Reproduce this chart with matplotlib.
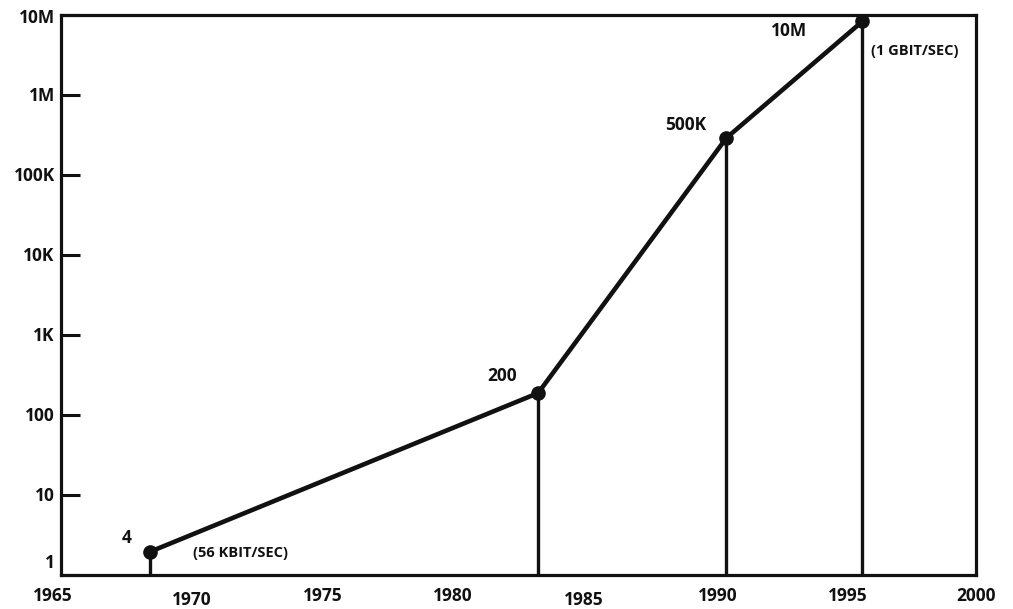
import matplotlib
matplotlib.use("Agg")
import matplotlib.pyplot as plt
from matplotlib.transforms import blended_transform_factory

plt.rcParams['font.family'] = ['Open Sans', 'DejaVu Sans']
plt.rcParams['font.weight'] = 'bold'

# Data
years = [1968.4, 1983.25, 1990.45, 1995.65]
values = [1.95, 188, 290000, 8300000]
point_labels = ["4", "200", "500K", "10M"]
rate_notes = ["(56 KBIT/SEC)", "(1 GBIT/SEC)"]
x_ticks = [1965, 1970, 1975, 1980, 1985, 1990, 1995, 2000]
x_tick_labels = ["1965", "1970", "1975", "1980", "1985", "1990", "1995", "2000"]
y_ticks = [1, 10, 100, 1000, 10000, 100000, 1000000, 10000000]
y_tick_labels = ["1", "10", "100", "1K", "10K", "100K", "1M", "10M"]

INK = "#111111"

fig = plt.figure(figsize=(10.13, 6.09), dpi=100)
ax = fig.add_axes([0.0602, 0.0558, 0.9635 - 0.0602, 0.9754 - 0.0558])
ax.set_yscale('log')
ax.set_xlim(1965, 2000)
ax.set_ylim(1, 1e7)

for s in ax.spines.values():
    s.set_linewidth(2.3)
    s.set_color(INK)

# line and markers
ax.plot(years, values, color=INK, lw=3.3, solid_capstyle='round', zorder=3)
ax.plot(years, values, 'o', color=INK, ms=9.5, zorder=4)
ax.vlines(years, 1, values, color=INK, lw=2.4, zorder=2)

# ticks
ax.set_yticks(y_ticks)
ax.set_yticklabels([])
ax.minorticks_off()
ax.tick_params(axis='y', direction='in', length=14, width=2.2, color=INK, labelleft=False)
ax.set_xticks(x_ticks)
ax.tick_params(axis='x', length=0, labelbottom=False)

# y tick labels
ytr = blended_transform_factory(ax.transAxes, ax.transData)
for v, lab in zip(y_ticks, y_tick_labels):
    dy = 9 if v == 1 else (-2 if v == 1e7 else -1)
    ax.annotate(lab, xy=(0, v), xycoords=ytr, xytext=(-4.5, dy), textcoords='offset points',
                ha='right', va='center', fontsize=12.5, fontweight='bold', color=INK)

# x tick labels (staggered as in the original)
xtr = blended_transform_factory(ax.transData, ax.transAxes)
for x, lab in zip(x_ticks, x_tick_labels):
    dy = -18.3 if lab in ("1970", "1985") else -15
    dx = -6 if lab == "1965" else (2 if lab in ("1990", "1995") else 0)
    ax.annotate(lab, xy=(x, 0), xycoords=xtr, xytext=(dx, dy), textcoords='offset points',
                ha='center', va='center', fontsize=12.5, fontweight='bold', color=INK)

# point labels
offsets = [(-16.5, 10), (-26, 12), (-29, 9), (-52.5, -7)]
for x, v, lab, off in zip(years, values, point_labels, offsets):
    ax.annotate(lab, xy=(x, v), xytext=off, textcoords='offset points',
                ha='center', va='center', fontsize=12.5, fontweight='bold', color=INK)

ax.annotate(rate_notes[0], xy=(years[0], values[0]), xytext=(31, -1), textcoords='offset points',
            ha='left', va='center', fontsize=10.5, fontweight='bold', color=INK)
ax.annotate(rate_notes[1], xy=(years[3], values[3]), xytext=(37.5, -21.5), textcoords='offset points',
            ha='center', va='center', fontsize=10.5, fontweight='bold', color=INK)

fig.savefig("out.png", dpi=100, facecolor='white')
